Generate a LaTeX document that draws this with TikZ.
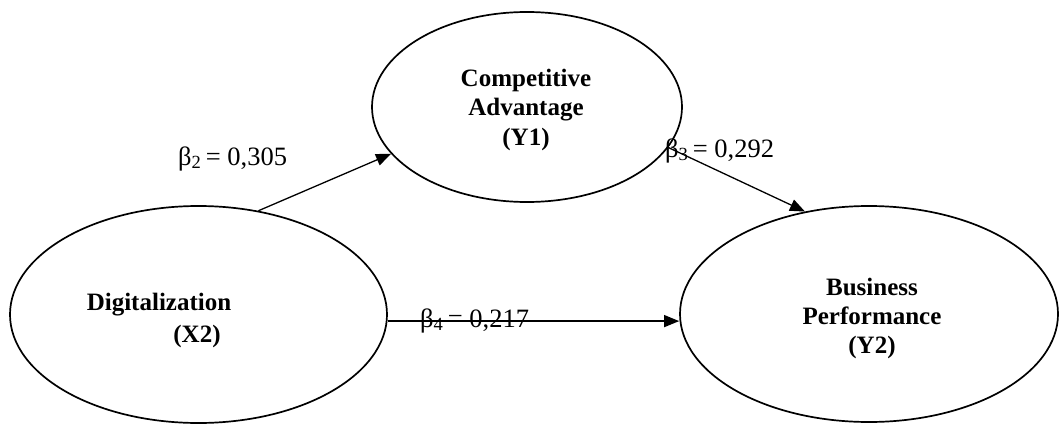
\documentclass[tikz,border=0pt]{standalone}
\usepackage{fontspec}
\setmainfont{Liberation Serif}
\usetikzlibrary{shapes.geometric,arrows.meta}
\begin{document}
\begin{tikzpicture}[x=1pt,y=-1pt,
  latent/.style={draw,line width=1.7pt,ellipse,inner sep=0pt},
  title/.style={font=\fontsize{25}{29}\selectfont\bfseries,anchor=base,inner sep=0pt},
  coef/.style={font=\fontsize{26.5}{30}\selectfont,anchor=base west,inner sep=0pt},
  path/.style={line width=1.3pt,-{Triangle[length=15pt,width=12pt]}}]
\useasboundingbox (0,0) rectangle (1059,425);
\node[latent,minimum width=377pt,minimum height=217pt] (x2) at (198.5,314.5) {};
\node[latent,minimum width=310pt,minimum height=190pt] (y1) at (527,107) {};
\node[latent,minimum width=378pt,minimum height=216pt] (y2) at (869,314) {};
\node[title] (t1a) at (526,87) {Competitive};
\node[title] (t1b) at (526,116) {Advantage};
\node[title] (t1c) at (526,145) {(Y1)};
\node[title] (t2a) at (159,310) {Digitalization};
\node[title] (t2b) at (197,342) {(X2)};
\node[title] (t3a) at (872,295) {Business};
\node[title] (t3b) at (872,324) {Performance};
\node[title] (t3c) at (872,353) {(Y2)};
\coordinate (s4) at (x2.-2.6);
\draw[path] (x2.60.5) -- (y1.199.5);
\draw[path] (y1.-16.4) -- (y2.122);
\draw[path] (s4) -- (s4 -| y2.west);
\node[coef] (b2) at (178,165) {β\textsubscript{2}\,= 0,305};
\node[coef] (b3) at (665,157) {β\textsubscript{3}\,= 0,292};
\node[coef] (b4) at (420,327) {β\textsubscript{4}\,= 0,217};
\end{tikzpicture}
\end{document}
